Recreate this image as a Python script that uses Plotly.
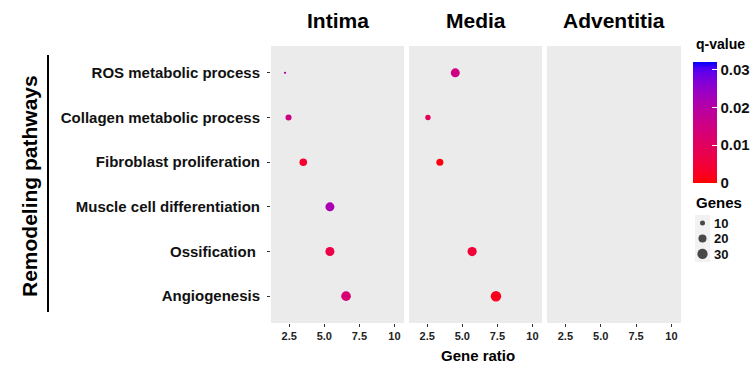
import plotly.graph_objects as go
import numpy as np

W, H = 753, 367

# ---------------- data ----------------
pathways = ["ROS metabolic process", "Collagen metabolic process", "Fibroblast proliferation",
            "Muscle cell differentiation", "Ossification ", "Angiogenesis"]
facets = ["Intima", "Media", "Adventitia"]

intima_ratio = [2.2, 2.45, 3.5, 5.4, 5.4, 6.55]
intima_genes = [5, 13, 18, 24, 24, 27]
intima_q = [0.020, 0.015, 0.004, 0.022, 0.007, 0.013]

media_ratio = [4.5, 2.55, 3.4, 5.7, 7.4]
media_pathways = ["ROS metabolic process", "Collagen metabolic process", "Fibroblast proliferation",
                  "Ossification ", "Angiogenesis"]
media_genes = [24, 11, 16, 25, 31]
media_q = [0.015, 0.009, 0.001, 0.005, 0.002]

x_ticks = [2.5, 5.0, 7.5, 10]
x_ticktext = ["2.5", "5.0", "7.5", "10"]
q_ticks = [0, 0.01, 0.02, 0.03]
q_ticktext = ["0", "0.01", "0.02", "0.03"]
gene_legend = [10, 20, 30]

# ---------------- helpers ----------------
def px_x(p):
    return p / W

def px_y(p):
    return 1 - p / H

def gene_size(v):
    v = np.asarray(v, dtype=float)
    return np.sqrt(np.clip(25 + 4.0 * (v - 10), 1, None))

def srgb_to_lin(c):
    c = c / 255.0
    return np.where(c <= 0.04045, c / 12.92, ((c + 0.055) / 1.055) ** 2.4)

def lin_to_srgb(c):
    c = np.clip(c, 0, 1)
    return np.where(c <= 0.0031308, 12.92 * c, 1.055 * c ** (1 / 2.4) - 0.055) * 255

M = np.array([[0.4124, 0.3576, 0.1805], [0.2126, 0.7152, 0.0722], [0.0193, 0.1192, 0.9505]])
Minv = np.linalg.inv(M)
WP = np.array([0.95047, 1.0, 1.08883])

def rgb_to_lab(rgb):
    xyz = M @ srgb_to_lin(np.array(rgb, float)) / WP
    f = np.where(xyz > 0.008856, np.cbrt(xyz), 7.787 * xyz + 16 / 116)
    return np.array([116 * f[1] - 16, 500 * (f[0] - f[1]), 200 * (f[1] - f[2])])

def lab_to_rgb(lab):
    fy = (lab[0] + 16) / 116
    fx = fy + lab[1] / 500
    fz = fy - lab[2] / 200
    f = np.array([fx, fy, fz])
    xyz = np.where(f ** 3 > 0.008856, f ** 3, (f - 16 / 116) / 7.787) * WP
    return lin_to_srgb(Minv @ xyz)

lab_lo = rgb_to_lab([255, 0, 0])
lab_hi = rgb_to_lab([0, 0, 255])
colorscale = []
for t in np.linspace(0, 1, 21):
    r, g, b = lab_to_rgb(lab_lo + (lab_hi - lab_lo) * t)
    colorscale.append([float(t), f"rgb({int(round(r))},{int(round(g))},{int(round(b))})"])

FONT = "Liberation Sans"

# ---------------- layout geometry ----------------
panels_px = [(271, 404), (409, 542), (547, 681)]
y_top, y_bot = 46, 323

fig = go.Figure()

fig.add_trace(go.Scatter(
    x=intima_ratio, y=pathways, mode="markers", xaxis="x", yaxis="y",
    marker=dict(size=gene_size(intima_genes), color=intima_q, coloraxis="coloraxis",
                line=dict(width=0), opacity=1),
    showlegend=False, hoverinfo="skip"))
fig.add_trace(go.Scatter(
    x=media_ratio, y=media_pathways, mode="markers", xaxis="x2", yaxis="y",
    marker=dict(size=gene_size(media_genes), color=media_q, coloraxis="coloraxis",
                line=dict(width=0), opacity=1),
    showlegend=False, hoverinfo="skip"))
fig.add_trace(go.Scatter(x=[None], y=[None], mode="markers", xaxis="x3", yaxis="y",
                         showlegend=False, hoverinfo="skip"))

# size legend drawn on its own small axis
fig.add_trace(go.Scatter(
    x=[0] * len(gene_legend), y=gene_legend, mode="markers", xaxis="x4", yaxis="y4",
    marker=dict(size=gene_size(gene_legend), color="black", line=dict(width=0)),
    showlegend=False, hoverinfo="skip"))

axis_common = dict(range=[1.2, 10.68], tickvals=x_ticks, ticktext=x_ticktext,
                   showgrid=False, zeroline=False, ticks="outside", ticklen=3,
                   tickcolor="#333333", showline=False,
                   tickfont=dict(family=FONT, size=11, color="#222222", weight="bold"))

layout = dict(
    width=W, height=H, margin=dict(l=0, r=0, t=0, b=0, autoexpand=False),
    paper_bgcolor="white", plot_bgcolor="rgba(0,0,0,0)",
    font=dict(family=FONT, color="black"),
    showlegend=False,
    yaxis=dict(domain=[px_y(y_bot), px_y(y_top)], type="category",
               categoryorder="array", categoryarray=pathways[::-1],
               range=[-0.6, 5.6], showgrid=False, zeroline=False,
               ticks="outside", ticklen=3, tickcolor="#333333", ticklabelstandoff=4,
               tickfont=dict(family=FONT, size=15, color="#111111", weight="bold"),
               anchor="x"),
    xaxis4=dict(domain=[px_x(695), px_x(710)], range=[-1, 1], anchor="y4",
                showgrid=False, zeroline=False, showticklabels=False, ticks=""),
    yaxis4=dict(domain=[px_y(262), px_y(215)], range=[35.2, 4.8], anchor="x4",
                side="right", tickvals=gene_legend, ticks="", showgrid=False,
                zeroline=False, ticklabelstandoff=3,
                tickfont=dict(family=FONT, size=13, color="#111111", weight="bold")),
    coloraxis=dict(
        cmin=0, cmax=0.032, colorscale=colorscale,
        colorbar=dict(
            x=px_x(693), xanchor="left", y=px_y(62), yanchor="top",
            lenmode="pixels", len=121, thicknessmode="pixels", thickness=24,
            tickvals=q_ticks, ticktext=q_ticktext, ticks="inside", ticklen=5,
            tickcolor="white", outlinewidth=0, xpad=0, ypad=0,
            tickfont=dict(family=FONT, size=15, color="#111111", weight="bold"))),
)
for i, (a, b) in enumerate(panels_px):
    key = "xaxis" if i == 0 else f"xaxis{i + 1}"
    layout[key] = dict(axis_common, domain=[px_x(a), px_x(b)], anchor="y")

fig.update_layout(**layout)

# panel backgrounds
for i in range(3):
    xr = "x" if i == 0 else f"x{i + 1}"
    fig.add_shape(type="rect", xref=f"{xr} domain", yref="y domain", layer="below",
                  x0=0, x1=1, y0=0, y1=1, fillcolor="#EBEBEB", line=dict(width=0))
fig.add_shape(type="rect", xref="x4 domain", yref="y4 domain", layer="below",
              x0=0, x1=1, y0=0, y1=1, fillcolor="#F2F2F2", line=dict(width=0))

annotations = []
for (a, b), name in zip(panels_px, facets):
    annotations.append(dict(x=px_x((a + b) / 2), y=px_y(20), xref="paper", yref="paper",
                            text=name, showarrow=False, xanchor="center", yanchor="middle",
                            font=dict(family=FONT, size=21, weight="bold")))
annotations.append(dict(x=px_x(478), y=px_y(355), xref="paper", yref="paper",
                        text="Gene ratio", showarrow=False, xanchor="center", yanchor="middle",
                        font=dict(family=FONT, size=15, weight="bold")))
annotations.append(dict(x=px_x(29), y=px_y(186), xref="paper", yref="paper",
                        text="Remodeling pathways", showarrow=False, textangle=-90,
                        xanchor="center", yanchor="middle",
                        font=dict(family=FONT, size=21, weight="bold")))
annotations.append(dict(x=px_x(694), y=px_y(44), xref="paper", yref="paper",
                        text="q-value", showarrow=False, xanchor="left", yanchor="middle",
                        font=dict(family=FONT, size=14, weight="bold")))
annotations.append(dict(x=px_x(694), y=px_y(203), xref="paper", yref="paper",
                        text="Genes", showarrow=False, xanchor="left", yanchor="middle",
                        font=dict(family=FONT, size=15, weight="bold")))
fig.update_layout(annotations=annotations)

fig.add_shape(type="line", xref="paper", yref="paper",
              x0=px_x(48), x1=px_x(48), y0=px_y(55), y1=px_y(312),
              line=dict(color="black", width=2))

fig.write_html("out.html", config={"displayModeBar": False},
               post_script="document.body.style.margin='0';document.body.style.overflow='hidden';")
